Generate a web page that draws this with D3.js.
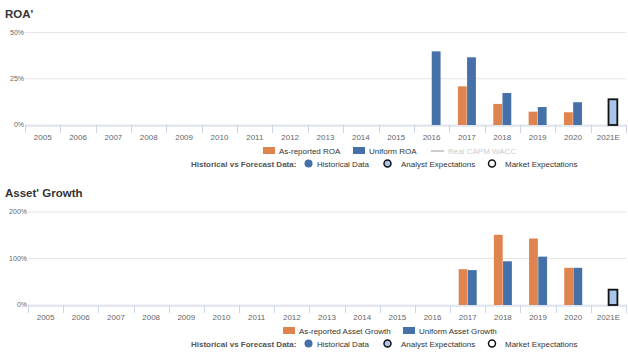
<!DOCTYPE html>
<html>
<head>
<meta charset="utf-8">
<script src="https://cdn.jsdelivr.net/npm/d3@7"></script>
<style>
    body { margin: 0; background: #fff; }
    svg { display: block; font-family: "Liberation Sans", Arial, sans-serif; }
</style>
</head>
<body>
<script>
'use strict';

// categories
const years = ["2005", "2006", "2007", "2008", "2009", "2010", "2011", "2012", "2013",
    "2014", "2015", "2016", "2017", "2018", "2019", "2020", "2021E"];

// ROA values (%), null = no bar
const roaReported = [null, null, null, null, null, null, null, null, null, null, null, null, 20.9, 11.4, 7.2, 6.9, null];
const roaUniform = [null, null, null, null, null, null, null, null, null, null, null, 39.8, 36.6, 17.3, 9.7, 12.3, null];
const roaForecast = [null, null, null, null, null, null, null, null, null, null, null, null, null, null, null, null, 13.9];
const roaTicks = [0, 25, 50];

// Asset growth values (%)
const agReported = [null, null, null, null, null, null, null, null, null, null, null, null, 77, 151, 143, 80, null];
const agUniform = [null, null, null, null, null, null, null, null, null, null, null, null, 75, 94, 104, 80, null];
const agForecast = [null, null, null, null, null, null, null, null, null, null, null, null, null, null, null, null, 33];
const agTicks = [0, 100, 200];

const orange = "#e0844f";
const blue = "#4571a8";
const lightBlue = "#a9c5ea";

const svg = d3.select("body").append("svg")
    .attr("width", 628)
    .attr("height", 361);

// draw one panel
function drawPanel(opt) {
    const g = svg.append("g");

    g.append("text")
        .attr("x", 5)
        .attr("y", opt.top - 15)
        .style("font-size", "11.5px")
        .style("font-weight", "bold")
        .style("fill", "#333")
        .text(opt.title);

    let x = d3.scaleBand()
        .domain(years)
        .range([opt.left, 626]);

    let y = d3.scaleLinear()
        .domain([0, opt.max])
        .range([opt.bottom, opt.top]);

    // gridlines
    g.selectAll(".grid")
        .data(opt.ticks)
        .enter()
        .append("line")
        .attr("x1", opt.left)
        .attr("x2", 626)
        .attr("y1", (d) => y(d))
        .attr("y2", (d) => y(d))
        .attr("stroke", "#e6e6e6")
        .attr("stroke-width", 1);

    // y tick labels
    g.selectAll(".ylab")
        .data(opt.ticks)
        .enter()
        .append("text")
        .attr("x", opt.left - 1)
        .attr("y", (d) => y(d) + 2)
        .attr("text-anchor", "end")
        .style("font-size", "7px")
        .style("fill", "#666")
        .text((d) => d + "%");

    // x axis
    let xAxis = d3.axisBottom(x)
        .tickSizeInner(0)
        .tickSizeOuter(0)
        .tickPadding(9);
    let ax = g.append("g")
        .attr("transform", "translate(0," + (opt.bottom + 0.5) + ")")
        .call(xAxis);
    ax.select(".domain").attr("stroke", "#ccd6eb");
    ax.selectAll("text")
        .style("font-size", "8px")
        .style("fill", "#666")
        .style("font-family", "Liberation Sans, Arial, sans-serif");

    // tick marks between categories
    g.selectAll(".tickmark")
        .data(years.concat(["end"]))
        .enter()
        .append("line")
        .attr("x1", (d, i) => Math.round(opt.left + i * x.step()) + 0.5)
        .attr("x2", (d, i) => Math.round(opt.left + i * x.step()) + 0.5)
        .attr("y1", opt.bottom)
        .attr("y2", opt.bottom + 8)
        .attr("stroke", "#ccd6eb");

    let x1 = d3.scaleBand()
        .domain(["rep", "uni"])
        .range([x.bandwidth() / 2 - 9, x.bandwidth() / 2 + 9])
        .paddingInner(0.04);

    const series = [
        { key: "rep", vals: opt.reported, fill: orange, stroke: "none" },
        { key: "uni", vals: opt.uniform, fill: blue, stroke: "none" },
        { key: "uni", vals: opt.forecast, fill: lightBlue, stroke: "#111" }
    ];

    series.forEach((s) => {
        g.selectAll(null)
            .data(years.map((yr, i) => ({ yr: yr, v: s.vals[i] })).filter((d) => d.v != null))
            .enter()
            .append("rect")
            .attr("x", (d) => x(d.yr) + x1(s.key))
            .attr("y", (d) => y(d.v))
            .attr("width", x1.bandwidth())
            .attr("height", (d) => y(0) - y(d.v))
            .attr("fill", s.fill)
            .attr("stroke", s.stroke)
            .attr("stroke-width", s.stroke == "none" ? 0 : 1.8);
    });

    // legend row 1
    let ly = opt.bottom + 26;
    let leg = g.append("g").style("font-size", "8px").style("fill", "#333");
    leg.append("rect").attr("x", opt.leg.sw1).attr("y", ly - 4).attr("width", 12).attr("height", 7).attr("fill", orange);
    leg.append("text").attr("x", opt.leg.sw1 + 16).attr("y", ly + 3).text(opt.leg.t1);
    leg.append("rect").attr("x", opt.leg.sw2).attr("y", ly - 4).attr("width", 12).attr("height", 7).attr("fill", blue);
    leg.append("text").attr("x", opt.leg.sw2 + 16).attr("y", ly + 3).text(opt.leg.t2);
    if (opt.leg.wacc) {
        leg.append("line").attr("x1", 431).attr("x2", 444).attr("y1", ly).attr("y2", ly)
            .attr("stroke", "#ccc").attr("stroke-width", 2);
        leg.append("text").attr("x", 448).attr("y", ly + 3).style("fill", "#ccc").text("Real CAPM WACC");
    }

    // legend row 2
    let ly2 = ly + 12.5;
    leg.append("text").attr("x", 191).attr("y", ly2 + 3)
        .style("font-weight", "bold").style("fill", "#555")
        .text("Historical vs Forecast Data:");
    leg.append("circle").attr("cx", 308.5).attr("cy", ly2).attr("r", 4).attr("fill", blue);
    leg.append("text").attr("x", 317).attr("y", ly2 + 3).text("Historical Data");
    leg.append("circle").attr("cx", 387.5).attr("cy", ly2).attr("r", 3.5)
        .attr("fill", lightBlue).attr("stroke", "#111").attr("stroke-width", 1.5);
    leg.append("text").attr("x", 401).attr("y", ly2 + 3).text("Analyst Expectations");
    leg.append("circle").attr("cx", 492).attr("cy", ly2).attr("r", 3.5)
        .attr("fill", "#fff").attr("stroke", "#111").attr("stroke-width", 1.5);
    leg.append("text").attr("x", 505).attr("y", ly2 + 3).text("Market Expectations");
}

drawPanel({
    title: "ROA'",
    top: 32.5, bottom: 125, left: 25, max: 50, ticks: roaTicks,
    reported: roaReported, uniform: roaUniform, forecast: roaForecast,
    leg: { sw1: 263, t1: "As-reported ROA", sw2: 353, t2: "Uniform ROA", wacc: true }
});

drawPanel({
    title: "Asset' Growth",
    top: 212, bottom: 305, left: 28, max: 200, ticks: agTicks,
    reported: agReported, uniform: agUniform, forecast: agForecast,
    leg: { sw1: 283, t1: "As-reported Asset Growth", sw2: 403, t2: "Uniform Asset Growth", wacc: false }
});
</script>
</body>
</html>
